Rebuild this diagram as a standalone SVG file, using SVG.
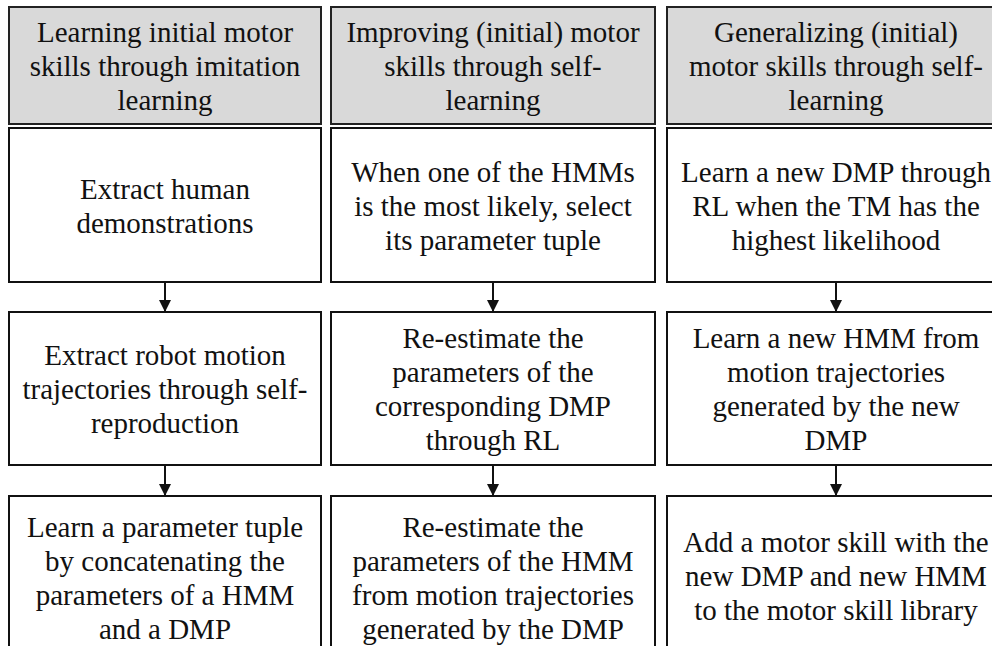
<svg xmlns="http://www.w3.org/2000/svg" width="992" height="646" viewBox="0 0 992 646">
<defs>
<style>
.hdr{fill:#d9d9d9;stroke:#222;stroke-width:2}
.box{fill:#fff;stroke:#111;stroke-width:2}
text{font-family:"Liberation Serif","Times New Roman",serif;font-size:29px;fill:#111;text-anchor:middle}
.edge{stroke:#111;stroke-width:2;fill:none}
</style>
<marker id="ah" viewBox="0 0 12 12" refX="12" refY="6" markerWidth="12" markerHeight="12" markerUnits="userSpaceOnUse" orient="auto">
<path d="M0,0 L12,6 L0,12 Z" fill="#111"/>
</marker>
</defs>
<rect x="0" y="0" width="992" height="646" fill="#fff"/>

<g id="h1"><rect class="hdr" x="9" y="7" width="312" height="117"/>
<text x="165" y="42">Learning initial motor</text><text x="165" y="76">skills through imitation</text><text x="165" y="110">learning</text></g>
<g id="h2"><rect class="hdr" x="331" y="7" width="324" height="117"/>
<text x="493" y="42">Improving (initial) motor</text><text x="493" y="76">skills through self-</text><text x="493" y="110">learning</text></g>
<g id="h3"><rect class="hdr" x="667" y="7" width="338" height="117"/>
<text x="836" y="42">Generalizing (initial)</text><text x="836" y="76">motor skills through self-</text><text x="836" y="110">learning</text></g>

<g id="a1"><rect class="box" x="9" y="128" width="312" height="154"/>
<text x="165" y="198.5">Extract human</text><text x="165" y="232.5">demonstrations</text></g>
<g id="b1"><rect class="box" x="331" y="128" width="324" height="154"/>
<text x="493" y="181.5">When one of the HMMs</text><text x="493" y="215.5">is the most likely, select</text><text x="493" y="249.5">its parameter tuple</text></g>
<g id="c1"><rect class="box" x="667" y="128" width="338" height="154"/>
<text x="836" y="181.5">Learn a new DMP through</text><text x="836" y="215.5">RL when the TM has the</text><text x="836" y="249.5">highest likelihood</text></g>

<g id="a2"><rect class="box" x="9" y="312" width="312" height="153"/>
<text x="165" y="365">Extract robot motion</text><text x="165" y="399">trajectories through self-</text><text x="165" y="433">reproduction</text></g>
<g id="b2"><rect class="box" x="331" y="312" width="324" height="153"/>
<text x="493" y="348">Re-estimate the</text><text x="493" y="382">parameters of the</text><text x="493" y="416">corresponding DMP</text><text x="493" y="450">through RL</text></g>
<g id="c2"><rect class="box" x="667" y="312" width="338" height="153"/>
<text x="836" y="348">Learn a new HMM from</text><text x="836" y="382">motion trajectories</text><text x="836" y="416">generated by the new</text><text x="836" y="450">DMP</text></g>

<g id="a3"><rect class="box" x="9" y="496" width="312" height="170"/>
<text x="165" y="536.5">Learn a parameter tuple</text><text x="165" y="570.5">by concatenating the</text><text x="165" y="604.5">parameters of a HMM</text><text x="165" y="638.5">and a DMP</text></g>
<g id="b3"><rect class="box" x="331" y="496" width="324" height="170"/>
<text x="493" y="536.5">Re-estimate the</text><text x="493" y="570.5">parameters of the HMM</text><text x="493" y="604.5">from motion trajectories</text><text x="493" y="638.5">generated by the DMP</text></g>
<g id="c3"><rect class="box" x="667" y="496" width="338" height="170"/>
<text x="836" y="552">Add a motor skill with the</text><text x="836" y="586">new DMP and new HMM</text><text x="836" y="620">to the motor skill library</text></g>

<g id="connectors">
<line class="edge" x1="165" y1="282" x2="165" y2="312" marker-end="url(#ah)"/>
<line class="edge" x1="493" y1="282" x2="493" y2="312" marker-end="url(#ah)"/>
<line class="edge" x1="836" y1="282" x2="836" y2="312" marker-end="url(#ah)"/>
<line class="edge" x1="165" y1="465" x2="165" y2="496" marker-end="url(#ah)"/>
<line class="edge" x1="493" y1="465" x2="493" y2="496" marker-end="url(#ah)"/>
<line class="edge" x1="836" y1="465" x2="836" y2="496" marker-end="url(#ah)"/>
</g>
</svg>
